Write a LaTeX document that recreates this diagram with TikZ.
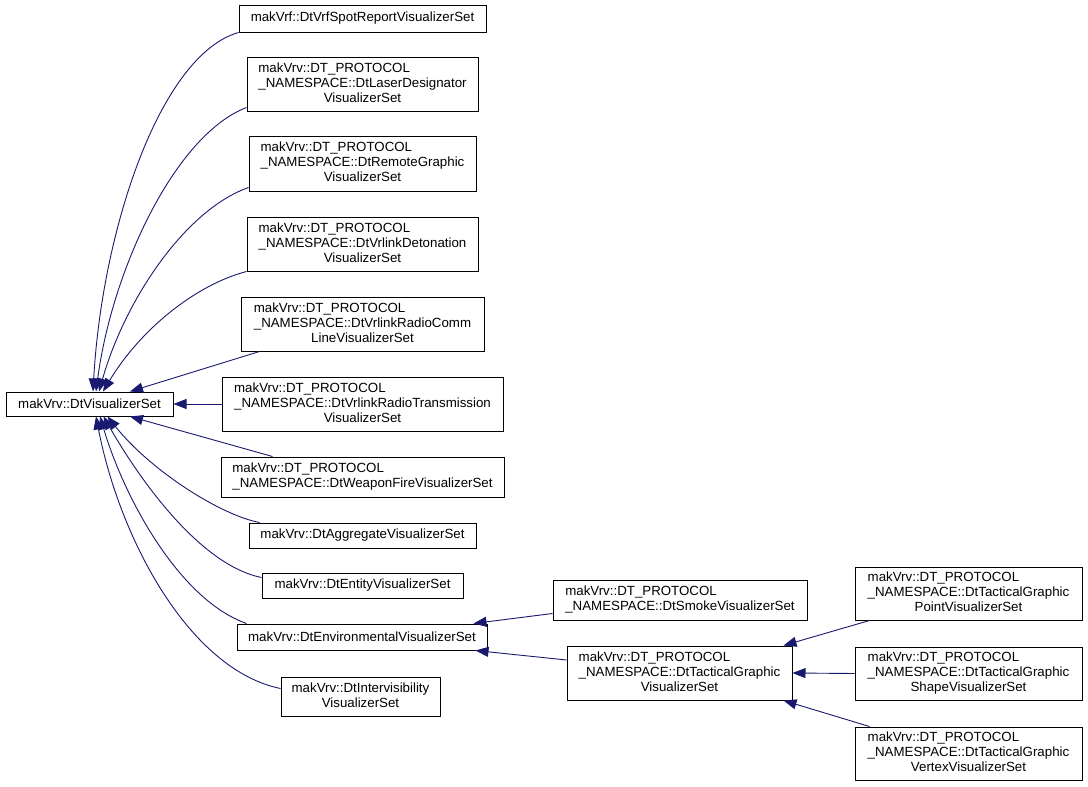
\documentclass[tikz,border=0pt]{standalone}
\usepackage{fontspec}
\setmainfont{Liberation Sans}
\usetikzlibrary{arrows.meta,calc}
\definecolor{edgeblue}{HTML}{191970}
\tikzset{
  box/.style={draw=black, line width=1pt, fill=white, inner sep=0pt, align=center,
    font=\fontsize{13.3}{15}\selectfont, text=black},
  edge/.style={draw=edgeblue, line width=0.9pt, -{Triangle[length=13pt,width=10pt]}}
}
\newcommand{\tl}[3]{\begin{tabular}{@{}l@{}}#1\\#2\\\multicolumn{1}{@{}c@{}}{#3}\end{tabular}}
\newcommand{\twl}[2]{\begin{tabular}{@{}l@{}}#1\\#2\end{tabular}}
\begin{document}
\begin{tikzpicture}[x=1pt,y=-1pt]
\useasboundingbox[fill=white] (0,0) rectangle (1088,787);
\renewcommand{\arraystretch}{1}
% nodes
\node[box, minimum width=167, minimum height=24] (base) at (89.5,404) {makVrv::DtVisualizerSet};
\node[box, minimum width=247, minimum height=27] (spot) at (362.5,18.5) {makVrf::DtVrfSpotReportVisualizerSet};
\node[box, minimum width=231, minimum height=54] (laser) at (362.5,84) {\tl{makVrv::DT\_PROTOCOL}{\_NAMESPACE::DtLaserDesignator}{VisualizerSet}};
\node[box, minimum width=227, minimum height=55] (remote) at (362.5,163.5) {\tl{makVrv::DT\_PROTOCOL}{\_NAMESPACE::DtRemoteGraphic}{VisualizerSet}};
\node[box, minimum width=231, minimum height=54] (deton) at (362.5,244) {\tl{makVrv::DT\_PROTOCOL}{\_NAMESPACE::DtVrlinkDetonation}{VisualizerSet}};
\node[box, minimum width=243, minimum height=54] (comm) at (362.5,324) {\tl{makVrv::DT\_PROTOCOL}{\_NAMESPACE::DtVrlinkRadioComm}{LineVisualizerSet}};
\node[box, minimum width=281, minimum height=54] (trans) at (362.5,404) {\tl{makVrv::DT\_PROTOCOL}{\_NAMESPACE::DtVrlinkRadioTransmission}{VisualizerSet}};
\node[box, minimum width=283, minimum height=40] (weapon) at (362.5,477) {\twl{makVrv::DT\_PROTOCOL}{\_NAMESPACE::DtWeaponFireVisualizerSet}};
\node[box, minimum width=227, minimum height=25] (agg) at (362.5,535.5) {makVrv::DtAggregateVisualizerSet};
\node[box, minimum width=201, minimum height=25] (entity) at (362.5,585.5) {makVrv::DtEntityVisualizerSet};
\node[box, minimum width=250, minimum height=26] (env) at (362,637) {makVrv::DtEnvironmentalVisualizerSet};
\node[box, minimum width=159, minimum height=39] (inter) at (360.5,696.5) {\begin{tabular}{@{}c@{}}makVrv::DtIntervisibility\\VisualizerSet\end{tabular}};
\node[box, minimum width=254, minimum height=40] (smoke) at (680,600) {\twl{makVrv::DT\_PROTOCOL}{\_NAMESPACE::DtSmokeVisualizerSet}};
\node[box, minimum width=225, minimum height=54] (tact) at (679.5,673) {\tl{makVrv::DT\_PROTOCOL}{\_NAMESPACE::DtTacticalGraphic}{VisualizerSet}};
\node[box, minimum width=227, minimum height=53] (point) at (968.5,593.5) {\tl{makVrv::DT\_PROTOCOL}{\_NAMESPACE::DtTacticalGraphic}{PointVisualizerSet}};
\node[box, minimum width=227, minimum height=53] (shape) at (968.5,673.5) {\tl{makVrv::DT\_PROTOCOL}{\_NAMESPACE::DtTacticalGraphic}{ShapeVisualizerSet}};
\node[box, minimum width=227, minimum height=53] (vertex) at (968.5,753.5) {\tl{makVrv::DT\_PROTOCOL}{\_NAMESPACE::DtTacticalGraphic}{VertexVisualizerSet}};
% edges into base (top side)
\draw[edge] (spot.south west) .. controls (160,55) and (102,230) .. ($(base.north)+(3.5,0)$);
\draw[edge] ($(laser.south west)+(0,-4)$) .. controls (175,135) and (112,270) .. ($(base.north)+(6.5,0)$);
\draw[edge] ($(remote.south west)+(0,-4)$) .. controls (185,210) and (125,300) .. ($(base.north)+(9.5,0)$);
\draw[edge] (deton.south west) .. controls (195,285) and (140,330) .. ($(base.north)+(13.5,0)$);
\draw[edge] ($(comm.south west)+(19,0)$) -- ($(base.north)+(40.5,0)$);
\draw[edge] (trans.west) -- (base.east);
% edges into base (bottom side)
\draw[edge] ($(weapon.north west)+(52,0)$) -- ($(base.south)+(40.5,0)$);
\draw[edge] ($(agg.north west)+(11,0)$) .. controls (220,515) and (150,470) .. ($(base.south)+(18,0)$);
\draw[edge] ($(entity.west)+(0,-8)$) .. controls (200,565) and (140,480) .. ($(base.south)+(14,0)$);
\draw[edge] ($(env.north west)+(10,0)$) .. controls (180,600) and (125,500) .. ($(base.south)+(10.5,0)$);
\draw[edge] ($(inter.west)+(0,-8)$) .. controls (190,670) and (120,540) .. ($(base.south)+(6.5,0)$);
% environmental children
\draw[edge] ($(smoke.south west)+(0,-7)$) -- ($(env.north east)+(-14,0)$);
\draw[edge] ($(tact.west)+(0,-13)$) -- ($(env.south east)+(-12,0)$);
% tactical children
\draw[edge] ($(point.south west)+(15,0)$) -- ($(tact.north east)+(-9,0)$);
\draw[edge] (shape.west) -- (tact.east);
\draw[edge] ($(vertex.north west)+(15,0)$) -- ($(tact.south east)+(-9,0)$);
\end{tikzpicture}
\end{document}
